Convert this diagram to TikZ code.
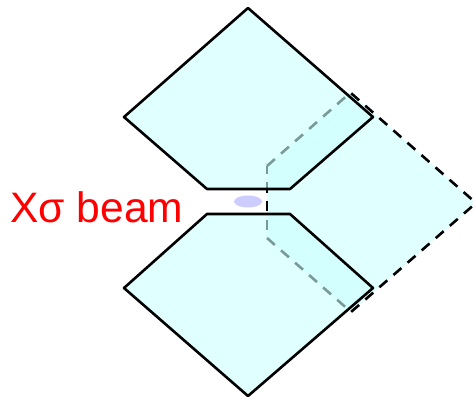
\documentclass[tikz,border=0pt]{standalone}
\usepackage{fontspec}
\setmainfont{Liberation Sans}
\definecolor{paleaqua}{HTML}{CCFFFF}
\definecolor{palelilac}{HTML}{CCCCFF}
\tikzset{
  vanefill/.style={fill=paleaqua,fill opacity=0.6},
  vaneline/.style={line width=2.6pt,line join=round},
  hiddenline/.style={line width=2.6pt,line join=round,dash pattern=on 10.5pt off 8.2pt},
  beamlabel/.style={text=red,font=\fontsize{42.6}{42.6}\selectfont,inner sep=0pt,anchor=base west}
}
\begin{document}
\begin{tikzpicture}[x=1pt,y=-1pt]
\clip (0,0) rectangle (473,396);
\coordinate (cornerup) at (267,166);
\coordinate (cornerdown) at (267,238);
\coordinate (tipup) at (350.4,92.6);
\coordinate (tipdown) at (351,312);
\coordinate (tipright) at (476,203);
% vane behind the other two
\fill[vanefill] (cornerup) -- (tipup) -- (tipright) -- (tipdown) -- (cornerdown) -- cycle;
\draw[hiddenline] (cornerup) -- (tipup) -- (tipright);
\draw[hiddenline] (cornerdown) -- (tipdown) -- (tipright);
\draw[hiddenline,dash phase=2.5pt] (cornerup) -- (cornerdown);
% upper and lower vanes
\fill[vanefill] (248,8) -- (373,117) -- (290,189) -- (207,189) -- (124,117) -- cycle;
\fill[vanefill] (248,396) -- (373,288) -- (290,214) -- (207,214) -- (124,288) -- cycle;
\draw[vaneline] (248,8) -- (373,117) -- (290,189) -- (207,189) -- (124,117) -- cycle;
\draw[vaneline] (248,396) -- (373,288) -- (290,214) -- (207,214) -- (124,288) -- cycle;
\fill[palelilac] (248,201.5) ellipse (14 and 6);
\node[beamlabel] (beam) at (10,222) {Xσ beam};
\end{tikzpicture}
\end{document}
